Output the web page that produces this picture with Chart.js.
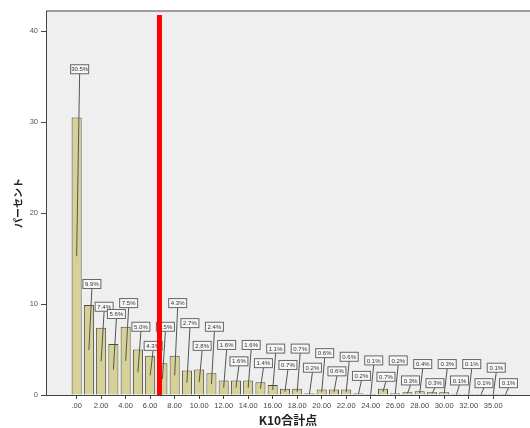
<!DOCTYPE html>
<html>
<head>
<meta charset="utf-8">
<script src="https://cdn.jsdelivr.net/npm/chart.js@4/dist/chart.umd.min.js"></script>
<style>
html,body{margin:0;padding:0;background:#fff;}
#wrap{width:530px;height:428px;}
</style>
</head>
<body>
<div id="wrap"><canvas id="c" width="530" height="428"></canvas></div>
<script>
// categories (K10 total score) and percentages
const categories = [".00","1.00","2.00","3.00","4.00","5.00","6.00","7.00","8.00","9.00",
  "10.00","11.00","12.00","13.00","14.00","15.00","16.00","17.00","18.00","19.00",
  "20.00","21.00","22.00","23.00","24.00","25.00","26.00","27.00","28.00","29.00",
  "30.00","31.00","32.00","34.00","35.00","36.00"];
const percents = [30.5,9.9,7.4,5.6,7.5,5.0,4.3,3.5,4.3,2.7,
  2.8,2.4,1.6,1.6,1.6,1.4,1.1,0.7,0.7,0.2,
  0.6,0.6,0.6,0.2,0.1,0.7,0.2,0.3,0.4,0.3,
  0.3,0.1,0.1,0.1,0.1,0.1];
const yTicks = [0,10,20,30,40];
// label box placement (in percent units) - layout only
const labelLevel = [35.8,12.2,9.7,8.9,10.1,7.5,5.4,7.5,10.1,7.9,
  5.4,7.5,5.5,3.7,5.5,3.5,5.1,3.3,5.1,3.0,
  4.6,2.6,4.2,2.1,3.8,2.0,3.8,1.6,3.4,1.3,
  3.4,1.6,3.4,1.3,3.0,1.3];
const cutoff = 6.76;

const bgPlugin = {
  id:'bg',
  beforeDraw(chart){
    const {ctx, chartArea:a} = chart;
    ctx.save();
    ctx.fillStyle = '#efefef';
    ctx.fillRect(a.left, a.top, a.right-a.left, a.bottom-a.top);
    ctx.strokeStyle = '#808080';
    ctx.lineWidth = 1.5;
    ctx.beginPath();
    ctx.moveTo(a.left, a.top); ctx.lineTo(a.right, a.top);
    ctx.stroke();
    ctx.restore();
  }
};

const labelPlugin = {
  id:'labels',
  afterDatasetsDraw(chart){
    const {ctx} = chart;
    const xs = chart.scales.x, ys = chart.scales.y;
    ctx.save();
    ctx.font = '6px "Liberation Sans", Arial, sans-serif';
    ctx.textAlign = 'center';
    ctx.textBaseline = 'middle';
    percents.forEach((v,i)=>{
      const x = xs.getPixelForValue(i);
      const mid = ys.getPixelForValue(v/2);
      const bx = x + 3;
      const by = ys.getPixelForValue(labelLevel[i]);
      const w = 18, h = 9;
      ctx.strokeStyle = '#555';
      ctx.lineWidth = 1;
      ctx.beginPath();
      ctx.moveTo(bx, by + h/2);
      ctx.lineTo(x, mid);
      ctx.stroke();
      ctx.fillStyle = '#f7f7f7';
      ctx.fillRect(bx-w/2, by-h/2, w, h);
      ctx.strokeStyle = '#666';
      ctx.strokeRect(bx-w/2, by-h/2, w, h);
      ctx.fillStyle = '#333';
      ctx.fillText(v.toFixed(1)+'%', bx, by+0.5);
    });
    // red cutoff line
    const rx = xs.getPixelForValue(cutoff);
    ctx.fillStyle = '#ff0000';
    ctx.fillRect(rx-2.5, chart.chartArea.top+4, 5, ys.getPixelForValue(0)-chart.chartArea.top-4);
    ctx.restore();
  }
};

new Chart(document.getElementById('c'), {
  type:'bar',
  data:{
    datasets:[{
      data: percents.map((v,i)=>({x:i, y:v})),
      backgroundColor:'#d6d197',
      borderColor:'#4b4a3c',
      borderWidth:1,
      categoryPercentage:0.82,
      barPercentage:1
    }]
  },
  options:{
    responsive:false,
    animation:false,
    devicePixelRatio:1,
    layout:{padding:{top:11,right:0,left:0,bottom:0}},
    plugins:{legend:{display:false},tooltip:{enabled:false}},
    scales:{
      x:{
        type:'linear',
        offset:false,
        min:-2.5, max:37,
        afterBuildTicks(s){ s.ticks = categories.map((c,i)=>({value:i})).filter(t=>t.value%2===0); },
        afterFit(s){ s.height = 33; },
        grid:{display:true, offset:false, drawOnChartArea:false, drawTicks:true, tickLength:4, color:'#444'},
        border:{display:true, color:'#444', width:1},
        ticks:{
          autoSkip:false, maxRotation:0, padding:2,
          color:'#444',
          font:{family:'"Liberation Sans", Arial, sans-serif', size:7.5},
          callback:(v)=>categories[v]
        },
        title:{display:true, text:'K10合計点', color:'#222',
          font:{family:'"Noto Sans CJK JP", sans-serif', size:12, weight:'bold'},
          padding:{top:0,bottom:0}}
      },
      y:{
        min:0, max:42.2,
        afterBuildTicks(s){ s.ticks = yTicks.map(v=>({value:v})); },
        afterFit(s){ s.width = 46; },
        grid:{display:true, drawOnChartArea:false, drawTicks:true, tickLength:5, color:'#444'},
        border:{display:true, color:'#444', width:1},
        ticks:{color:'#555', padding:3,
          font:{family:'"Liberation Sans", Arial, sans-serif', size:7.5}},
        title:{display:true, text:'パーセント', color:'#222',
          font:{family:'"Noto Sans CJK JP", sans-serif', size:10, weight:'bold'},
          padding:{top:12,bottom:0}}
      }
    }
  },
  plugins:[bgPlugin, labelPlugin]
});
</script>
</body>
</html>
